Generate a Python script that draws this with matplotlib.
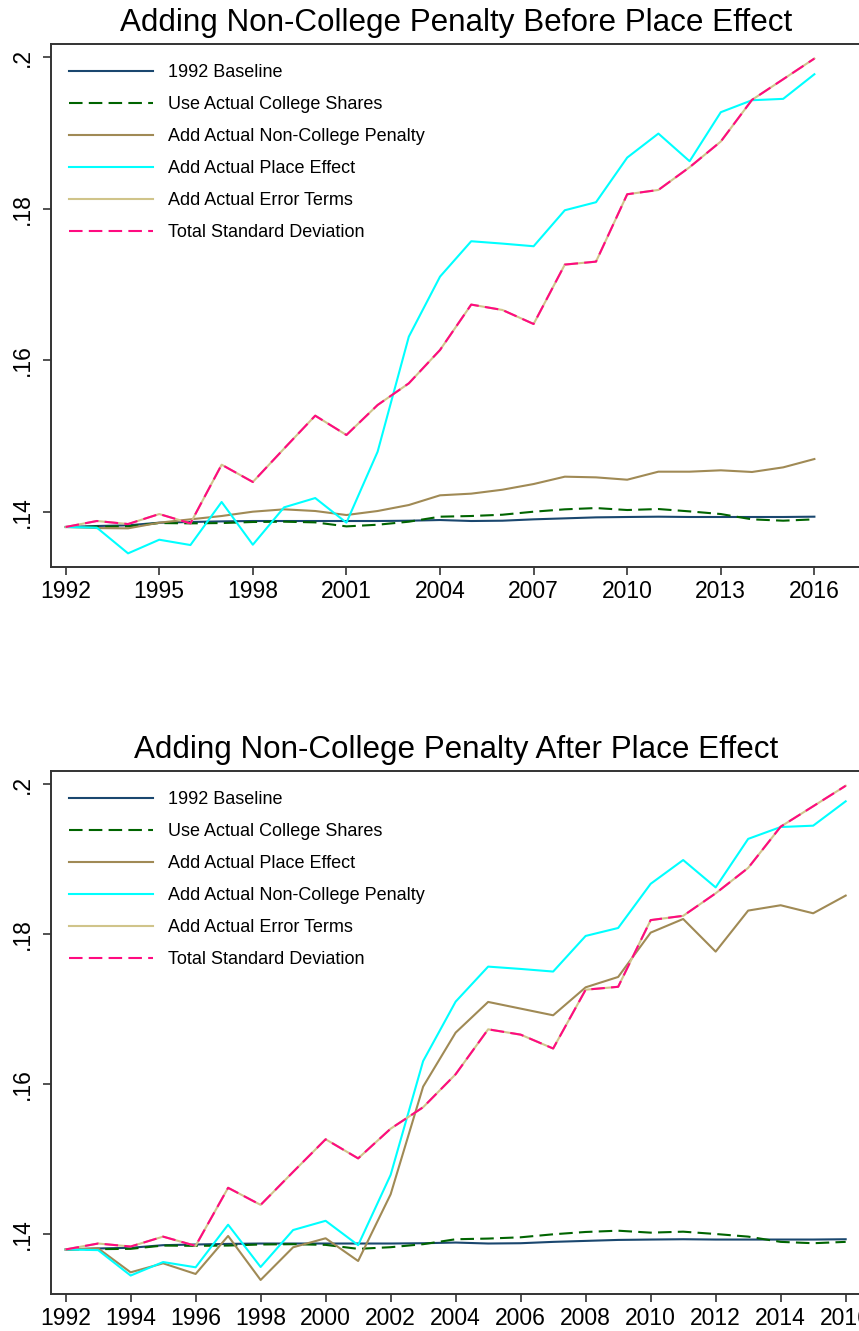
import matplotlib
matplotlib.use("Agg")
import matplotlib.pyplot as plt

plt.rcParams['font.family'] = ['Liberation Sans', 'DejaVu Sans']

years = list(range(1992, 2017))

# series (same in both panels unless noted)
baseline = [0.13798, 0.13811, 0.13820, 0.13855, 0.13864, 0.13872, 0.13877, 0.13877, 0.13877,
            0.13877, 0.13877, 0.13881, 0.13890, 0.13877, 0.13881, 0.13899, 0.13912, 0.13925,
            0.13930, 0.13934, 0.13930, 0.13930, 0.13930, 0.13930, 0.13934]
college = [0.13798, 0.13802, 0.13806, 0.13850, 0.13846, 0.13850, 0.13864, 0.13868, 0.13859,
           0.13806, 0.13828, 0.13868, 0.13934, 0.13943, 0.13960, 0.14000, 0.14031, 0.14048,
           0.14022, 0.14035, 0.14004, 0.13969, 0.13899, 0.13881, 0.13899]
noncollege_only = [0.13798, 0.13784, 0.13780, 0.13855, 0.13899, 0.13943, 0.14000, 0.14031, 0.14009,
                   0.13956, 0.14009, 0.14088, 0.14216, 0.14238, 0.14290, 0.14365, 0.14462, 0.14453,
                   0.14422, 0.14528, 0.14528, 0.14546, 0.14524, 0.14585, 0.14695]
place_only = [0.13796, 0.13813, 0.13493, 0.13613, 0.13471, 0.13978, 0.13391, 0.13827, 0.13947,
              0.13644, 0.14533, 0.15969, 0.16689, 0.17098, 0.17009, 0.16920, 0.17293, 0.17431,
              0.18022, 0.18204, 0.17769, 0.18316, 0.18387, 0.18280, 0.18516]
both = [0.13798, 0.13789, 0.13450, 0.13630, 0.13560, 0.14128, 0.13564, 0.14057, 0.14180,
        0.13855, 0.14792, 0.16310, 0.17102, 0.17569, 0.17538, 0.17503, 0.17978, 0.18084,
        0.18673, 0.18990, 0.18625, 0.19272, 0.19430, 0.19448, 0.19773]
total_sd = [0.13798, 0.13877, 0.13837, 0.13969, 0.13846, 0.14620, 0.14392, 0.14832, 0.15267,
            0.15012, 0.15408, 0.15694, 0.16134, 0.16733, 0.16662, 0.16477, 0.17261, 0.17300,
            0.18189, 0.18246, 0.18546, 0.18885, 0.19435, 0.19707, 0.19980]
# error-terms line sits exactly under the total SD line
error_terms = list(total_sd)

yticks = [0.14, 0.16, 0.18, 0.2]
ytick_labels = ['.14', '.16', '.18', '.2']

navy = '#1a476f'
dkgreen = '#006400'
brown = '#a08a55'
cyan = '#00ffff'
sand = '#d0c48a'
pink = '#ff0a80'

W, H = 859, 1331
fig = plt.figure(figsize=(W / 100, H / 100), dpi=100)


def make_panel(top_px, bottom_px, xlim, ylim, xticks, title, title_px, third_label, third, fourth_label):
    ax = fig.add_axes([51.3 / W, 1 - bottom_px / H, 1 - 51.3 / W, (bottom_px - top_px) / H])
    ax.plot(years, baseline, color=navy, lw=1.5, label='1992 Baseline')
    ax.plot(years, college, color=dkgreen, lw=1.5, dashes=(6.5, 3), label='Use Actual College Shares')
    ax.plot(years, third, color=brown, lw=1.5, label=third_label)
    ax.plot(years, both, color=cyan, lw=1.5, label=fourth_label)
    ax.plot(years, error_terms, color=sand, lw=1.5, label='Add Actual Error Terms')
    ax.plot(years, total_sd, color=pink, lw=1.5, dashes=(6.5, 3), label='Total Standard Deviation')
    ax.set_xlim(*xlim)
    ax.set_ylim(*ylim)
    ax.set_xticks(xticks)
    ax.set_xticklabels([str(x) for x in xticks])
    ax.set_yticks(yticks)
    ax.set_yticklabels(ytick_labels, rotation=90, va='center')
    ax.spines['right'].set_visible(False)
    for s in ['left', 'bottom', 'top']:
        ax.spines[s].set_color('#333333')
        ax.spines[s].set_linewidth(1.4)
    ax.tick_params(length=5.8, width=1.2, color='#333333', labelsize=16.5, pad=3.5)
    ax.tick_params(axis='y', pad=6.5)
    ax.legend(loc='upper left', bbox_to_anchor=(69 / W, 1 - (top_px + 20) / H),
              bbox_transform=fig.transFigure, frameon=False, fontsize=13,
              handlelength=4.67, handletextpad=0.8, labelspacing=0.83,
              borderpad=0, borderaxespad=0)
    fig.text(456 / W, 1 - title_px / H, title, ha='center', va='baseline', fontsize=22.6)
    return ax


make_panel(44, 566.7, (1991.54, 2017.43), (0.13274, 0.20172), list(range(1992, 2017, 3)),
           'Adding Non-College Penalty Before Place Effect', 31,
           'Add Actual Non-College Penalty', noncollege_only, 'Add Actual Place Effect')
make_panel(771, 1294.3, (1991.56, 2016.41), (0.132, 0.20177), list(range(1992, 2017, 2)),
           'Adding Non-College Penalty After Place Effect', 758,
           'Add Actual Place Effect', place_only, 'Add Actual Non-College Penalty')

fig.savefig('out.png', dpi=100)
